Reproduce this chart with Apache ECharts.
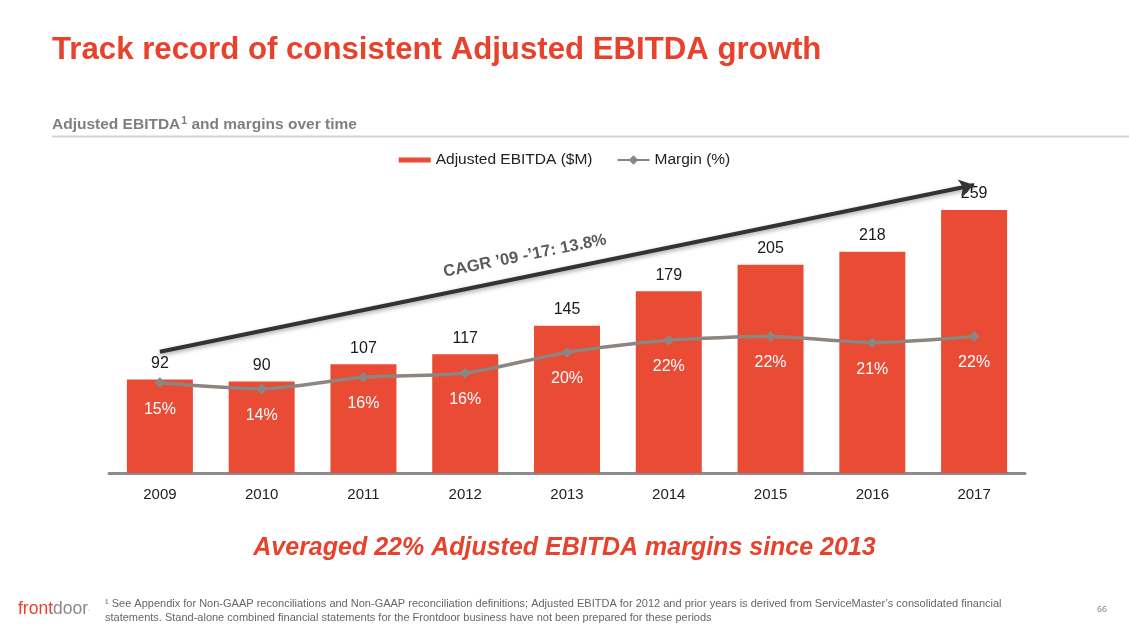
<!DOCTYPE html>
<html>
<head>
<meta charset="utf-8">
<script src="https://cdn.jsdelivr.net/npm/echarts@6/dist/echarts.min.js"></script>
<style>
html,body{margin:0;padding:0;background:#fff;}
#c{width:1129px;height:635px;}
</style>
</head>
<body>
<div id="c"></div>
<script>
const years = ['2009','2010','2011','2012','2013','2014','2015','2016','2017'];
const ebitda = [92, 90, 107, 117, 145, 179, 205, 218, 259];
const margin = [14.8, 13.8, 15.7, 16.4, 19.8, 21.8, 22.4, 21.4, 22.4];
const marginLabels = ['15%','14%','16%','16%','20%','22%','22%','21%','22%'];
const cagrStart = 119.5;
const cagrEnd = 283.6;

const RED = '#E94B35';
const FONT = '"Liberation Sans", Arial, sans-serif';

const chart = echarts.init(document.getElementById('c'));
chart.setOption({
  backgroundColor: '#fff',
  textStyle: { fontFamily: FONT },
  animation: false,
  legend: {
    top: 147,
    left: 'center',
    itemWidth: 32,
    itemHeight: 12,
    itemGap: 24,
    textStyle: { fontSize: 15.5, color: '#222', fontFamily: FONT },
    data: [
      { name: 'Adjusted EBITDA ($M)', icon: 'path://M0,0h1v0.01h-1z M0,3.5h32v5H0z M0,11.99h1v0.01h-1z' },
      { name: 'Margin (%)' }
    ]
  },
  grid: { left: 109, right: 104, top: 168.4, bottom: 162 },
  xAxis: {
    type: 'category',
    data: years,
    axisTick: { show: false },
    axisLine: { lineStyle: { color: '#8c8c8c', width: 3 } },
    axisLabel: { fontSize: 15, color: '#222', margin: 14, fontFamily: FONT }
  },
  yAxis: [
    { type: 'value', min: 0, max: 300, show: false, splitLine: { show: false } },
    { type: 'value', min: 0, max: 50, show: false, splitLine: { show: false } }
  ],
  graphic: [
    { type: 'text', left: 52, top: 35, style: { text: 'Track record of consistent Adjusted EBITDA growth', fontSize: 31.2, fontWeight: 'bold', fill: '#E8412C', fontFamily: FONT } },
    { type: 'text', left: 52, top: 116, style: {
        text: '{a|Adjusted EBITDA}{s|1}{a| and margins over time}',
        rich: {
          a: { fontSize: 15.5, fontWeight: 'bold', fill: '#7f7f7f', fontFamily: FONT },
          s: { fontSize: 10.5, fontWeight: 'bold', fill: '#7f7f7f', fontFamily: FONT, verticalAlign: 'top', padding: [0,0,6,1] }
        } } },
    { type: 'rect', shape: { x: 52, y: 135.5, width: 1077, height: 2 }, style: { fill: '#d4d4d4' } },
    { type: 'text', x: 525, y: 256, rotation: 11.4 * Math.PI / 180, style: { text: 'CAGR ’09 -’17: 13.8%', fontSize: 16.5, fontWeight: 'bold', fill: '#5a5a5a', align: 'center', verticalAlign: 'middle', fontFamily: FONT } },
    { type: 'text', left: 'center', top: 536, style: { text: 'Averaged 22% Adjusted EBITDA margins since 2013', fontSize: 25, fontWeight: 'bold', fontStyle: 'italic', fill: '#E8412C', fontFamily: FONT } },
    { type: 'text', left: 18, top: 600, style: {
        text: '{r|front}{g|door}{t|.}',
        rich: {
          r: { fontSize: 17.5, fill: '#E8412C', fontFamily: FONT },
          g: { fontSize: 17.5, fill: '#8a8a8a', fontFamily: FONT },
          t: { fontSize: 8, fill: '#8a8a8a', fontFamily: FONT }
        } } },
    { type: 'text', left: 105, top: 597, style: {
        text: '¹ See Appendix for Non-GAAP reconciliations and Non-GAAP reconciliation definitions; Adjusted EBITDA for 2012 and prior years is derived from ServiceMaster’s consolidated financial\nstatements. Stand-alone combined financial statements for the Frontdoor business have not been prepared for these periods',
        fontSize: 11, lineHeight: 14, fill: '#666', fontFamily: FONT } },
    { type: 'text', left: 1097, top: 605, style: { text: '66', fontSize: 9, fill: '#888', fontFamily: FONT } }
  ],
  series: [
    {
      name: 'Adjusted EBITDA ($M)',
      type: 'bar',
      data: ebitda,
      barWidth: 66,
      itemStyle: { color: RED },
      label: { show: true, position: 'top', distance: 8, fontSize: 16, color: '#1a1a1a', fontFamily: FONT },
      z: 2,
      markLine: {
        silent: true,
        symbol: ['none', 'arrow'],
        symbolSize: [13, 15],
        label: { show: false },
        lineStyle: { color: '#333', width: 4, type: 'solid', shadowColor: 'rgba(0,0,0,0.35)', shadowBlur: 4, shadowOffsetY: 2 },
        data: [[ { coord: [0, cagrStart] }, { coord: [8, cagrEnd] } ]],
        z: 5
      }
    },
    {
      name: 'Margin (%)',
      type: 'line',
      yAxisIndex: 1,
      data: margin,
      smooth: 0.25,
      symbol: 'diamond',
      symbolSize: 11,
      itemStyle: { color: '#8C8580' },
      lineStyle: { color: '#8C8580', width: 3.5 },
      label: {
        show: true, position: 'bottom', distance: 13, fontSize: 16, color: '#fff', fontFamily: FONT,
        formatter: p => marginLabels[p.dataIndex]
      },
      z: 3
    }
  ]
});
</script>
</body>
</html>
